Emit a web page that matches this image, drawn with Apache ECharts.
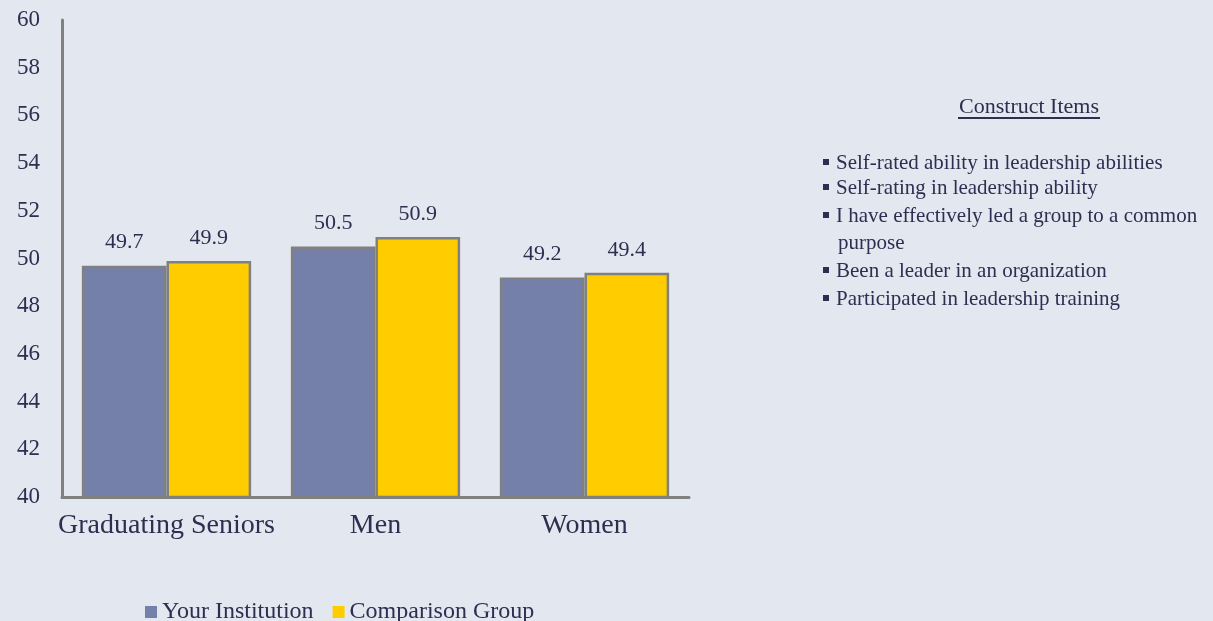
<!DOCTYPE html>
<html>
<head>
<meta charset="utf-8">
<script src="https://cdn.jsdelivr.net/npm/echarts@6/dist/echarts.min.js"></script>
<style>
  html, body { margin: 0; padding: 0; background: #e3e7ef; }
  #chart { width: 1213px; height: 621px; }
</style>
</head>
<body>
<div id="chart"></div>
<script>
// data
var categories = ['Graduating Seniors', 'Men', 'Women'];
var yourInstitution = [49.7, 50.5, 49.2];
var comparisonGroup = [49.9, 50.9, 49.4];
var constructTitle = 'Construct Items';
var constructItems = [
  'Self-rated ability in leadership abilities',
  'Self-rating in leadership ability',
  'I have effectively led a group to a common',
  'purpose',
  'Been a leader in an organization',
  'Participated in leadership training'
];
var itemBullet = [true, true, true, false, true, true];
var itemCenters = [163, 188, 216, 243, 271, 299];

var serif = '"Liberation Serif", "DejaVu Serif", serif';
var ink = '#2b2f50';
var chart = echarts.init(document.getElementById('chart'));

// text box on the right side
var graphics = [
  {
    type: 'text', x: 1029, y: 107,
    style: { text: constructTitle, font: '22px ' + serif, fill: ink, align: 'center', verticalAlign: 'middle' }
  },
  {
    type: 'line', shape: { x1: 958, y1: 118, x2: 1100, y2: 118 },
    style: { stroke: ink, lineWidth: 2 }
  }
];
constructItems.forEach(function (t, i) {
  if (itemBullet[i]) {
    graphics.push({
      type: 'rect', shape: { x: 823, y: itemCenters[i] - 4, width: 6, height: 6 },
      style: { fill: ink }
    });
  }
  graphics.push({
    type: 'text', x: itemBullet[i] ? 836 : 838, y: itemCenters[i],
    style: { text: t, font: '21px ' + serif, fill: ink, verticalAlign: 'middle' }
  });
});

var option = {
  backgroundColor: '#e3e7ef',
  textStyle: { fontFamily: serif },
  grid: { left: 62, right: 524, top: 20, bottom: 124 },
  legend: {
    top: 600, left: 145, padding: 0,
    itemWidth: 12, itemHeight: 12, itemGap: 19,
    icon: 'rect',
    itemStyle: { borderWidth: 0 },
    textStyle: { fontFamily: serif, fontSize: 24, color: ink },
    data: ['Your Institution', 'Comparison Group']
  },
  xAxis: {
    type: 'category',
    data: categories,
    axisLine: { lineStyle: { color: '#808080', width: 3 } },
    axisTick: { show: false },
    axisLabel: { interval: 0, fontFamily: serif, fontSize: 28, color: ink, margin: 15 }
  },
  yAxis: {
    type: 'value',
    min: 40, max: 60, interval: 2,
    axisLine: { show: true, lineStyle: { color: '#808080', width: 3 } },
    axisTick: { show: false },
    splitLine: { show: false },
    axisLabel: { fontFamily: serif, fontSize: 23, color: ink, margin: 22 }
  },
  series: [
    {
      name: 'Your Institution',
      type: 'bar',
      data: yourInstitution,
      barGap: '0%',
      barCategoryGap: '19%',
      itemStyle: { color: '#7480aa', borderColor: '#808080', borderWidth: 2.5 },
      label: { show: true, position: 'top', distance: 12, fontFamily: serif, fontSize: 22, color: ink }
    },
    {
      name: 'Comparison Group',
      type: 'bar',
      data: comparisonGroup,
      itemStyle: { color: '#ffcc00', borderColor: '#808080', borderWidth: 2.5 },
      label: { show: true, position: 'top', distance: 12, fontFamily: serif, fontSize: 22, color: ink }
    }
  ],
  graphic: graphics
};
chart.setOption(option);
</script>
</body>
</html>
